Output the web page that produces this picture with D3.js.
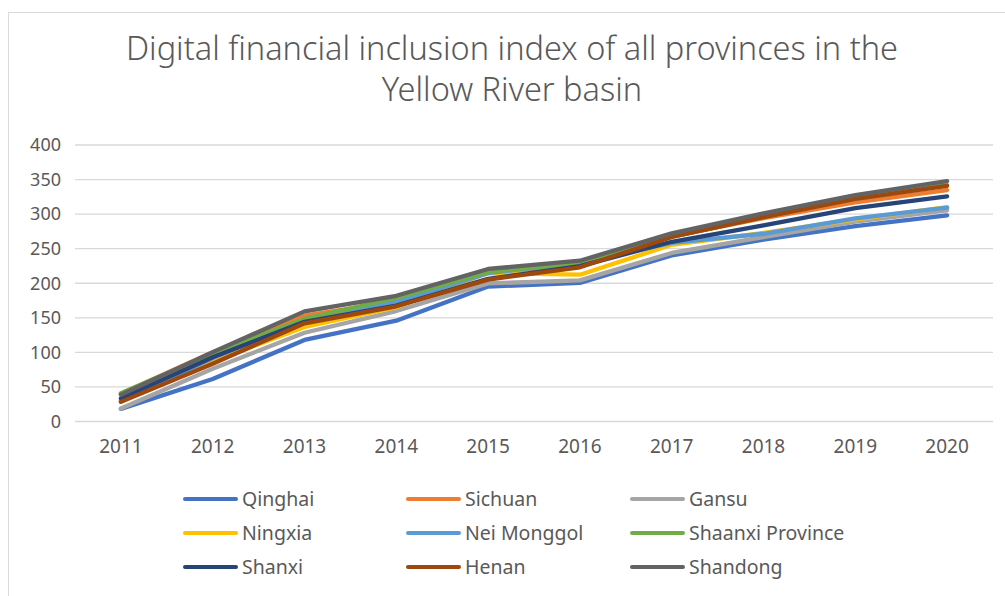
<!DOCTYPE html>
<meta charset="utf-8">
<head>
<title>Digital financial inclusion index - Yellow River basin</title>
<script src="https://cdnjs.cloudflare.com/ajax/libs/d3/7.8.5/d3.min.js"></script>
<style type="text/css">
body {margin: 0; background: #fff;}
text {font-family: "Noto Sans", sans-serif; fill: #595959;}
</style>
</head>
<body>
<script>
// Data
var years = ["2011", "2012", "2013", "2014", "2015", "2016", "2017", "2018", "2019", "2020"];
var yTicks = [0, 50, 100, 150, 200, 250, 300, 350, 400];

var qinghai   = [18.3, 61.5, 118.0, 145.9, 195.2, 200.4, 240.2, 263.1, 282.7, 298.2];
var sichuan   = [40.2, 100.1, 153.0, 173.8, 215.5, 225.4, 267.8, 294.3, 317.1, 334.8];
var gansu     = [18.8, 76.3, 128.4, 159.8, 199.8, 204.1, 243.8, 266.8, 289.1, 305.5];
var ningxia   = [31.3, 87.1, 136.7, 165.3, 214.7, 212.4, 255.6, 272.9, 292.3, 310.0];
var neimenggu = [28.9, 91.7, 146.6, 172.6, 214.6, 229.9, 258.5, 271.6, 293.9, 309.4];
var shaanxi   = [41.0, 98.2, 148.4, 178.7, 216.1, 229.4, 266.9, 296.0, 322.9, 342.0];
var shanxi    = [33.4, 93.0, 144.2, 167.7, 206.3, 224.8, 260.0, 283.7, 308.7, 325.7];
var henan     = [28.4, 83.7, 142.1, 166.7, 205.3, 223.1, 266.9, 295.8, 322.1, 340.8];
var shandong  = [38.6, 100.4, 159.3, 181.9, 220.7, 232.6, 272.1, 301.1, 327.4, 347.8];

var series = [
  {name: "Qinghai", values: qinghai, color: "#4472C4"},
  {name: "Sichuan", values: sichuan, color: "#ED7D31"},
  {name: "Gansu", values: gansu, color: "#A5A5A5"},
  {name: "Ningxia", values: ningxia, color: "#FFC000"},
  {name: "Nei Monggol", values: neimenggu, color: "#5B9BD5"},
  {name: "Shaanxi Province", values: shaanxi, color: "#70AD47"},
  {name: "Shanxi", values: shanxi, color: "#264478"},
  {name: "Henan", values: henan, color: "#9E480E"},
  {name: "Shandong", values: shandong, color: "#636363"}
];

var width = 1005, height = 596;
var plot = {left: 75, right: 993, top: 145, bottom: 421.5};

var svg = d3.select("body").append("svg")
  .attr("width", width)
  .attr("height", height);

// chart frame
svg.append("rect")
  .attr("x", 8.5).attr("y", 12.5)
  .attr("width", 1010).attr("height", 600)
  .attr("fill", "#fff")
  .attr("stroke", "#d9d9d9");

// title
svg.append("text")
  .attr("x", 512).attr("y", 60)
  .attr("text-anchor", "middle")
  .style("font-size", "32.5px")
  .style("font-weight", 300)
  .text("Digital financial inclusion index of all provinces in the");
svg.append("text")
  .attr("x", 512).attr("y", 101)
  .attr("text-anchor", "middle")
  .style("font-size", "32.5px")
  .style("font-weight", 300)
  .text("Yellow River basin");

var x = d3.scaleBand()
  .domain(years)
  .range([plot.left, plot.right]);

var y = d3.scaleLinear()
  .domain([0, 400])
  .range([plot.bottom, plot.top]);

// gridlines
svg.append("g")
  .selectAll("line")
  .data(yTicks)
  .enter()
  .append("line")
  .attr("x1", plot.left).attr("x2", plot.right)
  .attr("y1", d => y(d)).attr("y2", d => y(d))
  .style("stroke", "#d9d9d9")
  .style("stroke-width", 1.3);

// y axis labels
var yAxis = svg.append("g")
  .attr("transform", "translate(" + 61 + ",0)")
  .call(d3.axisLeft(y).tickValues(yTicks).tickSize(0).tickPadding(0));
yAxis.select(".domain").remove();
yAxis.selectAll("text")
  .style("font-size", "18px")
  .style("fill", "#595959")
  .attr("font-family", null);

// x axis labels
var xAxis = svg.append("g")
  .attr("transform", "translate(0," + (plot.bottom + 18) + ")")
  .call(d3.axisBottom(x).tickSize(0).tickPadding(0));
xAxis.select(".domain").remove();
xAxis.selectAll("text")
  .style("font-size", "19px")
  .style("fill", "#595959")
  .attr("font-family", null);

// lines
var line = d3.line()
  .x((d, i) => x(years[i]) + x.bandwidth() / 2)
  .y(d => y(d));

svg.append("g")
  .selectAll("path")
  .data(series)
  .enter()
  .append("path")
  .attr("d", d => line(d.values))
  .style("fill", "none")
  .style("stroke", d => d.color)
  .style("stroke-width", 4.3)
  .style("stroke-linejoin", "round")
  .style("stroke-linecap", "round");

// legend
var colX = [185, 408, 632];
var rowY = [499, 533, 567];
var legend = svg.append("g")
  .selectAll("g")
  .data(series)
  .enter()
  .append("g")
  .attr("transform", (d, i) => "translate(" + colX[i % 3] + "," + rowY[Math.floor(i / 3)] + ")");

legend.append("line")
  .attr("x1", 0).attr("x2", 51)
  .style("stroke", d => d.color)
  .style("stroke-width", 4)
  .style("stroke-linecap", "round");

legend.append("text")
  .attr("x", 57)
  .attr("dy", "0.35em")
  .style("font-size", "19.5px")
  .text(d => d.name);
</script>
</body>
